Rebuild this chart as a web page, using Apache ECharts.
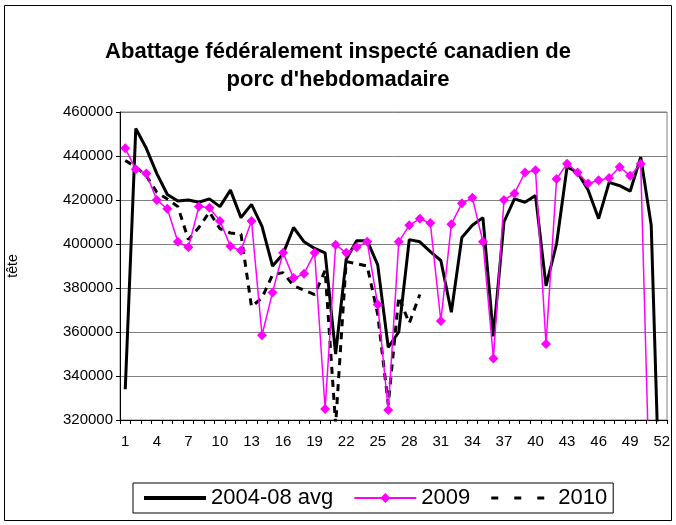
<!DOCTYPE html>
<html>
<head>
<meta charset="utf-8">
<script src="https://cdn.jsdelivr.net/npm/echarts@6/dist/echarts.min.js"></script>
<style>html,body{margin:0;padding:0;background:#fff;}#c{width:676px;height:525px;}</style>
</head>
<body>
<div id="c"></div>
<script>
const weeks = Array.from({length: 52}, (_, i) => String(i + 1));
const avg0408 = [334000,452500,443500,432000,422500,419500,420000,419000,420500,417000,
  424500,412000,418000,408000,390000,395500,407500,401000,398000,396000,
  350000,393000,401500,401500,390500,353000,360000,402000,401000,396500,
  392500,369000,403000,408500,412000,358000,410000,420500,419000,422000,
  381000,400000,435000,432500,424500,411500,428000,426500,424000,439500,
  408500,250000];
const y2009 = [443500,434000,432000,420000,416000,401000,398500,417000,416500,410500,
  399000,397000,410500,358500,378000,396000,384500,386500,396000,325000,
  399700,396000,398500,401000,372500,324500,401000,408500,411500,409500,
  365000,409000,418500,421000,401000,348000,420000,423000,432500,433500,
  354500,429500,436500,432500,427500,429000,430000,435000,431000,436500,
  260000,null];
const y2010 = [438000,435000,431000,423500,420500,417000,402000,407500,414500,407000,
  405000,404500,371500,375500,386000,387000,381000,379000,377000,388000,
  318000,392000,391000,390000,368000,327000,376000,364000,377000];
const yMin = 320000, yMax = 460000, yStep = 20000;

const FONT = "'Liberation Sans', Arial, sans-serif";
// legend icons (62 x 12 boxes)
const corners = 'M0,0h0.01v0.01h-0.01zM61.99,11.99h0.01v0.01h-0.01z';
const iconAvg = 'path://' + corners + 'M0,4H62V8H0Z';
const icon2009 = 'path://' + corners + 'M0,5.1H62V6.9H0ZM31,1L36,6L31,11L26,6Z';
const icon2010 = 'path://' + corners + 'M0,4.5H7V7.5H0ZM23,4.5H30V7.5H23ZM46,4.5H53V7.5H46Z';

const chart = echarts.init(document.getElementById('c'), null, {renderer: 'canvas'});
chart.setOption({
  animation: false,
  backgroundColor: '#fff',
  textStyle: {fontFamily: FONT, color: '#000'},
  title: {
    text: "Abattage fédéralement inspecté canadien de\nporc d'hebdomadaire",
    left: 'center', top: 33,
    textStyle: {fontSize: 22, fontWeight: 'bold', lineHeight: 28, fontFamily: FONT, color: '#000'}
  },
  graphic: [{
    type: 'rect', shape: {x: 4.5, y: 5.5, width: 667, height: 515},
    style: {fill: 'none', stroke: '#000', lineWidth: 1}, z: -1
  }],
  legend: {
    left: 133, top: 483,
    borderColor: '#000', borderWidth: 1,
    padding: [4, 6, 4, 11],
    itemGap: 21, itemWidth: 62, itemHeight: 12,
    textStyle: {fontSize: 22, fontFamily: FONT, color: '#000'},
    data: [
      {name: '2004-08 avg', icon: iconAvg},
      {name: '2009', icon: icon2009},
      {name: '2010', icon: icon2010}
    ]
  },
  grid: {left: 120, right: 9, top: 112, bottom: 105, containLabel: false, outerBoundsMode: 'none',
         show: true, borderColor: '#808080', borderWidth: 1},
  xAxis: {
    type: 'category', data: weeks, boundaryGap: true,
    axisLine: {lineStyle: {color: '#000', width: 1}},
    axisTick: {show: true, interval: 0, length: 4, lineStyle: {color: '#000'}},
    axisLabel: {interval: 2, fontSize: 15, margin: 14, color: '#000', fontFamily: FONT},
    splitLine: {show: false}
  },
  yAxis: {
    type: 'value', min: yMin, max: yMax, interval: yStep,
    name: 'tête', nameLocation: 'middle', nameGap: 100,
    nameTextStyle: {fontSize: 14, fontFamily: FONT, color: '#000'},
    axisLine: {show: true, lineStyle: {color: '#000', width: 1}},
    axisTick: {show: true, length: 4, lineStyle: {color: '#000'}},
    axisLabel: {fontSize: 15, margin: 7, color: '#000', fontFamily: FONT, formatter: v => String(v)},
    splitLine: {lineStyle: {color: '#808080', width: 1}}
  },
  series: [
    {name: '2004-08 avg', type: 'line', data: avg0408, symbol: 'none', clip: true,
     lineStyle: {color: '#000', width: 3}, itemStyle: {color: '#000'}, z: 2},
    {name: '2010', type: 'line', data: y2010, symbol: 'none', clip: true,
     lineStyle: {color: '#000', width: 3, type: [7, 6]}, itemStyle: {color: '#000'}, z: 3},
    {name: '2009', type: 'line', data: y2009, symbol: 'diamond', symbolSize: 10, showAllSymbol: true, clip: true,
     lineStyle: {color: '#ff00ff', width: 1.5}, itemStyle: {color: '#ff00ff'}, z: 4}
  ]
});
</script>
</body>
</html>
